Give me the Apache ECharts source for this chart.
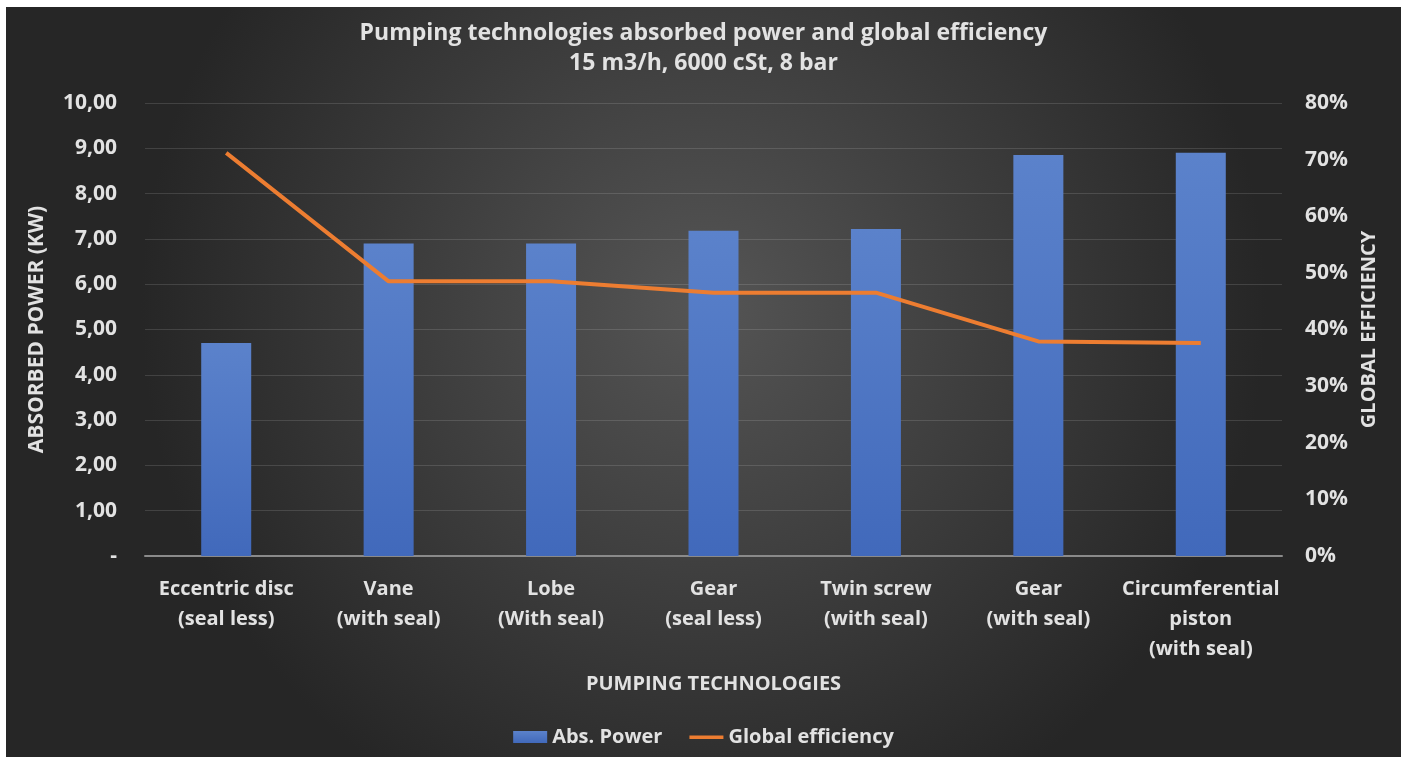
<!DOCTYPE html>
<html>
<head>
<meta charset="utf-8">
<title>Pumping technologies</title>
<script src="https://cdn.jsdelivr.net/npm/echarts@6/dist/echarts.min.js"></script>
<style>
  html, body { margin: 0; padding: 0; background: #fff; }
  #chart { position: absolute; left: 6px; top: 7px; width: 1395px; height: 750px; }
</style>
</head>
<body>
<div id="chart"></div>
<script>
// data
var categories = [
  'Eccentric disc\n(seal less)',
  'Vane\n(with seal)',
  'Lobe\n(With seal)',
  'Gear\n(seal less)',
  'Twin screw\n(with seal)',
  'Gear\n(with seal)',
  'Circumferential\npiston\n(with seal)'
]
var absPower = [4.70, 6.90, 6.90, 7.18, 7.22, 8.85, 8.90] // kW
var globalEfficiency = [71.2, 48.5, 48.5, 46.5, 46.5, 37.9, 37.6] // %

var textColor = '#e2e2e2'
var fontFamily = '"Open Sans", "DejaVu Sans", sans-serif'
// thin bar inside a 34x12 box, so the legend shows a line and no dot
var lineIcon = 'path://M0,0L34,0L34,0Z M0,4.5L34,4.5L34,8L0,8Z M0,12L34,12L34,12Z'

var chart = echarts.init(document.getElementById('chart'))

chart.setOption({
  backgroundColor: {
    type: 'radial',
    x: 0.5,
    y: 0.4,
    r: 0.75,
    colorStops: [
      { offset: 0, color: '#555555' },
      { offset: 1, color: '#262626' }
    ]
  },
  animation: false,
  textStyle: { fontFamily: fontFamily },
  title: {
    text: 'Pumping technologies absorbed power and global efficiency\n15 m3/h, 6000 cSt, 8 bar',
    left: 'center',
    top: 6,
    textStyle: {
      color: textColor,
      fontSize: 23,
      fontWeight: 'bold',
      lineHeight: 30,
      fontFamily: fontFamily
    }
  },
  legend: {
    bottom: 5,
    left: 'center',
    itemWidth: 34,
    itemHeight: 12,
    itemGap: 27,
    textStyle: { color: textColor, fontSize: 20, fontWeight: 'bold' },
    data: [
      { name: 'Abs. Power', icon: 'rect' },
      { name: 'Global efficiency', icon: lineIcon }
    ]
  },
  grid: {
    left: 139,
    right: 119,
    top: 96,
    bottom: 201
  },
  xAxis: {
    type: 'category',
    data: categories,
    name: 'PUMPING TECHNOLOGIES',
    nameLocation: 'middle',
    nameGap: 118,
    nameTextStyle: { color: textColor, fontSize: 20, fontWeight: 'bold' },
    axisTick: { show: false },
    axisLine: { lineStyle: { color: '#8a8a8a', width: 2 } },
    axisLabel: {
      color: textColor,
      fontSize: 20,
      fontWeight: 'bold',
      lineHeight: 30,
      margin: 18,
      interval: 0
    }
  },
  yAxis: [{
    type: 'value',
    min: 0,
    max: 10,
    interval: 1,
    name: 'ABSORBED POWER (KW)',
    nameLocation: 'middle',
    nameRotate: 90,
    nameGap: 97,
    nameTextStyle: { color: textColor, fontSize: 21, fontWeight: 'bold' },
    axisLine: { show: false },
    axisTick: { show: false },
    axisLabel: {
      color: textColor,
      fontSize: 21,
      fontWeight: 'bold',
      margin: 28,
      formatter: function(v) {
        return v === 0 ? '-' : v.toFixed(2).replace('.', ',')
      }
    },
    splitLine: { lineStyle: { color: 'rgba(255,255,255,0.13)', width: 1 } }
  }, {
    type: 'value',
    min: 0,
    max: 80,
    interval: 10,
    name: 'GLOBAL EFFICIENCY',
    nameLocation: 'middle',
    nameRotate: 90,
    nameGap: 75,
    nameTextStyle: { color: textColor, fontSize: 20, fontWeight: 'bold' },
    axisLine: { show: false },
    axisTick: { show: false },
    axisLabel: {
      color: textColor,
      fontSize: 21,
      fontWeight: 'bold',
      margin: 23,
      formatter: '{value}%'
    },
    splitLine: { show: false }
  }],
  series: [{
    name: 'Abs. Power',
    type: 'bar',
    yAxisIndex: 0,
    barWidth: 50,
    itemStyle: {
      color: {
        type: 'linear',
        x: 0, y: 0, x2: 0, y2: 1,
        colorStops: [
          { offset: 0, color: '#5b82cb' },
          { offset: 1, color: '#4169bb' }
        ]
      }
    },
    data: absPower
  }, {
    name: 'Global efficiency',
    type: 'line',
    yAxisIndex: 1,
    symbol: 'none',
    lineStyle: { color: '#ed7d31', width: 4 },
    itemStyle: { color: '#ed7d31' },
    data: globalEfficiency
  }]
})
</script>
</body>
</html>
